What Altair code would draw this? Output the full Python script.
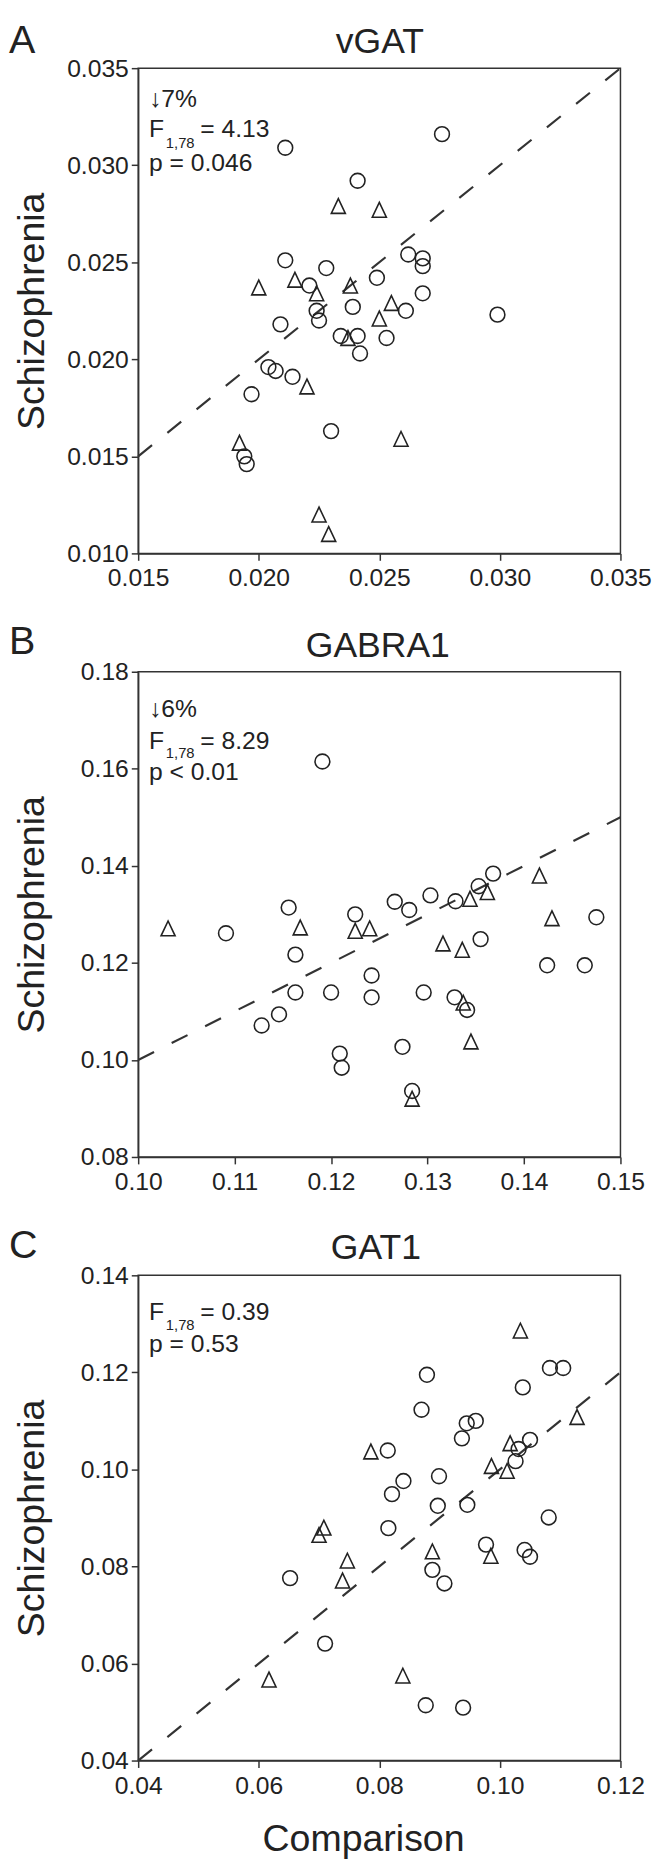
import altair as alt
import pandas as pd

FONT = "Liberation Sans"
INK = "#222222"

# ---------------- Panel A: vGAT ----------------
vgat_circle_cmp = [0.0211, 0.0276, 0.0241, 0.0211, 0.0228, 0.0221, 0.0249, 0.0262, 0.0268, 0.0268,
                   0.0268, 0.0224, 0.0225, 0.0239, 0.0261, 0.0299, 0.0209, 0.0234, 0.0241, 0.0253,
                   0.0242, 0.0204, 0.0207, 0.0214, 0.0197, 0.0230, 0.0194, 0.0195]
vgat_circle_scz = [0.0309, 0.0316, 0.0292, 0.0251, 0.0247, 0.0238, 0.0242, 0.0254, 0.0252, 0.0248,
                   0.0234, 0.0225, 0.0220, 0.0227, 0.0225, 0.0223, 0.0218, 0.0212, 0.0212, 0.0211,
                   0.0203, 0.0196, 0.0194, 0.0191, 0.0182, 0.0163, 0.0150, 0.0146]
vgat_tri_cmp = [0.0233, 0.0250, 0.0200, 0.0215, 0.0224, 0.0238, 0.0255, 0.0250, 0.0237, 0.0220,
                0.0192, 0.0259, 0.0225, 0.0229]
vgat_tri_scz = [0.0279, 0.0277, 0.0237, 0.0241, 0.0234, 0.0238, 0.0229, 0.0221, 0.0211, 0.0186,
                0.0157, 0.0159, 0.0120, 0.0110]
vgat_line = [0.015, 0.035]
vgat_xticks = [0.015, 0.020, 0.025, 0.030, 0.035]
vgat_yticks = [0.010, 0.015, 0.020, 0.025, 0.030, 0.035]

# ---------------- Panel B: GABRA1 ----------------
gabra1_circle_cmp = [0.1191, 0.1156, 0.1225, 0.1266, 0.1281, 0.1303, 0.1329, 0.1353, 0.1368, 0.1475,
                     0.1091, 0.1163, 0.1355, 0.1424, 0.1463, 0.1242, 0.1163, 0.1200, 0.1242, 0.1296,
                     0.1328, 0.1341, 0.1146, 0.1128, 0.1274, 0.1209, 0.1211, 0.1284]
gabra1_circle_scz = [0.1615, 0.1314, 0.1300, 0.1326, 0.1309, 0.1339, 0.1327, 0.1358, 0.1384, 0.1294,
                     0.1261, 0.1217, 0.1249, 0.1195, 0.1195, 0.1174, 0.1139, 0.1139, 0.1129, 0.1139,
                     0.1129, 0.1103, 0.1094, 0.1071, 0.1027, 0.1013, 0.0984, 0.0936]
gabra1_tri_cmp = [0.1416, 0.1344, 0.1362, 0.1429, 0.1031, 0.1168, 0.1225, 0.1240, 0.1316, 0.1336,
                  0.1337, 0.1345, 0.1284]
gabra1_tri_scz = [0.1380, 0.1332, 0.1346, 0.1292, 0.1271, 0.1273, 0.1266, 0.1271, 0.1240, 0.1227,
                  0.1118, 0.1038, 0.0920]
gabra1_line = [0.10, 0.15]
gabra1_xticks = [0.10, 0.11, 0.12, 0.13, 0.14, 0.15]
gabra1_yticks = [0.08, 0.10, 0.12, 0.14, 0.16, 0.18]

# ---------------- Panel C: GAT1 ----------------
gat1_circle_cmp = [0.0879, 0.1083, 0.1105, 0.1038, 0.0870, 0.0945, 0.0960, 0.0937, 0.1050, 0.1031,
                   0.1026, 0.0814, 0.0840, 0.0899, 0.0821, 0.0897, 0.0946, 0.1081, 0.0815, 0.0977,
                   0.1041, 0.1050, 0.0888, 0.0652, 0.0908, 0.0710, 0.0877, 0.0939]
gat1_circle_scz = [0.1195, 0.1209, 0.1209, 0.1169, 0.1123, 0.1095, 0.1100, 0.1064, 0.1061, 0.1042,
                   0.1017, 0.1039, 0.0976, 0.0986, 0.0949, 0.0925, 0.0927, 0.0901, 0.0879, 0.0845,
                   0.0834, 0.0820, 0.0793, 0.0776, 0.0765, 0.0641, 0.0514, 0.0509]
gat1_tri_cmp = [0.1034, 0.1128, 0.1017, 0.0786, 0.0986, 0.1012, 0.0708, 0.0700, 0.0888, 0.0985,
                0.0747, 0.0739, 0.0617, 0.0839]
gat1_tri_scz = [0.1286, 0.1108, 0.1054, 0.1037, 0.1007, 0.0997, 0.0880, 0.0865, 0.0831, 0.0822,
                0.0812, 0.0771, 0.0567, 0.0575]
gat1_line = [0.04, 0.12]
gat1_xticks = [0.04, 0.06, 0.08, 0.10, 0.12]
gat1_yticks = [0.04, 0.06, 0.08, 0.10, 0.12, 0.14]

TRI = "M0,-1L0.95,1L-0.95,1Z"
W, H = 489, 492


def txt(s, x, y, size, align="left"):
    return alt.Chart(pd.DataFrame({"k": [0]})).mark_text(
        text=s, font=FONT, fontSize=size, color=INK, align=align, baseline="alphabetic"
    ).encode(x=alt.value(x), y=alt.value(y))


def panel(letter, letter_y, title, title_x, title_y, ccmp, cscz, tcmp, tscz, line, xt, yt, fmt,
          notes, xtitle):
    df = pd.DataFrame({
        "cmp": ccmp + tcmp,
        "scz": cscz + tscz,
        "grp": ["circle"] * len(ccmp) + ["triangle"] * len(tcmp),
    })
    ldf = pd.DataFrame({"cmp": line, "scz": line})
    xaxis = alt.Axis(values=xt, format=fmt, labelPadding=6, title=xtitle,
                     titleX=228, titleY=91, titleBaseline="alphabetic", titleAlign="center")
    yaxis = alt.Axis(values=yt, format=fmt, labelPadding=3, title="Schizophrenia",
                     titleX=-96, titleY=H / 2, titleAngle=270, titleAlign="center",
                     titleBaseline="alphabetic")
    xe = alt.X("cmp:Q", scale=alt.Scale(domain=[xt[0], xt[-1]], nice=False, zero=False), axis=xaxis)
    ye = alt.Y("scz:Q", scale=alt.Scale(domain=[yt[0], yt[-1]], nice=False, zero=False), axis=yaxis)
    pts = alt.Chart(df).mark_point(filled=False, size=225, strokeWidth=1.6, color=INK, opacity=1).encode(
        x=xe, y=ye,
        shape=alt.Shape("grp:N", scale=alt.Scale(domain=["circle", "triangle"], range=["circle", TRI]),
                        legend=None),
    )
    ln = alt.Chart(ldf).mark_line(strokeDash=[18, 20], color="#333333", strokeWidth=2.2).encode(x=xe, y=ye)
    layers = [ln, pts, txt(letter, -131, letter_y, 40), txt(title, title_x, title_y, 36, align="center")]
    for s, x, y, size in notes:
        layers.append(txt(s, x, y, size))
    return alt.layer(*layers).properties(width=W, height=H)


notes_a = [("↓7%", 11, 39, 25), ("F", 11, 70, 25), ("1,78", 28, 81, 15), ("= 4.13", 63, 70, 25),
           ("p = 0.046", 11, 104, 25)]
notes_b = [("↓6%", 11, 46, 25), ("F", 11, 78, 25), ("1,78", 28, 87, 15), ("= 8.29", 63, 78, 25),
           ("p < 0.01", 11, 110, 25)]
notes_c = [("F", 11, 45, 25), ("1,78", 28, 55, 15), ("= 0.39", 63, 45, 25), ("p = 0.53", 11, 78, 25)]

a = panel("A", -15, "vGAT", 245, -15, vgat_circle_cmp, vgat_circle_scz, vgat_tri_cmp, vgat_tri_scz,
          vgat_line, vgat_xticks, vgat_yticks, ".3f", notes_a, "")
b = panel("B", -18, "GABRA1", 243, -15, gabra1_circle_cmp, gabra1_circle_scz, gabra1_tri_cmp,
          gabra1_tri_scz, gabra1_line, gabra1_xticks, gabra1_yticks, ".2f", notes_b, "")
c = panel("C", -18, "GAT1", 241, -17, gat1_circle_cmp, gat1_circle_scz, gat1_tri_cmp, gat1_tri_scz,
          gat1_line, gat1_xticks, gat1_yticks, ".2f", notes_c, "Comparison")

chart = alt.vconcat(a, b, c, spacing=120, bounds="flush").properties(
    padding=0, background="white"
).configure_view(
    stroke="#333333", strokeWidth=1.5
).configure_axis(
    grid=False, domainColor="#333333", domainWidth=1.5, tickColor="#333333", tickWidth=1.5,
    tickSize=7, labelFont=FONT, labelFontSize=25, labelColor=INK, labelFlush=False,
    titleFont=FONT, titleFontSize=38, titleFontWeight="normal", titleColor=INK,
)

chart.save("out.html", embed_options={"renderer": "svg", "actions": False})
